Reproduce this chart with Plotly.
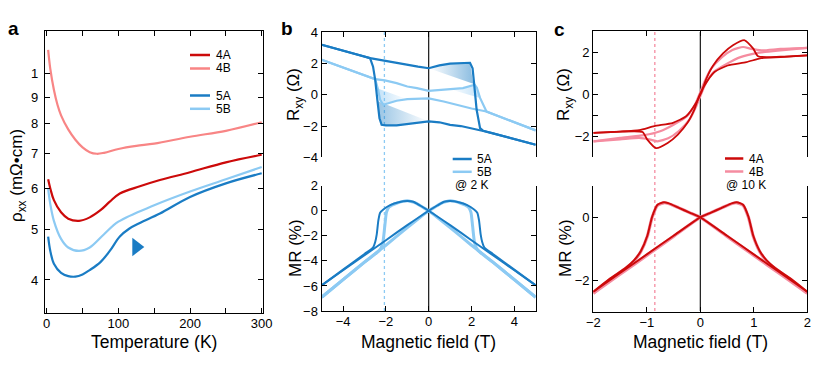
import plotly.graph_objects as go

# ---- panel a: resistivity vs temperature (log axis, values in units where tick "1" = 1.0)
temp_4a = [2, 5, 10, 20, 30, 45, 60, 75, 88, 102, 130, 158, 200, 250, 300]
rho_4a = [0.625, 0.60, 0.57, 0.54, 0.525, 0.52, 0.528, 0.545, 0.566, 0.587, 0.606, 0.623, 0.645, 0.674, 0.697]
temp_4b = [2, 5, 10, 15, 20, 30, 40, 50, 60, 70, 80, 100, 125, 150, 200, 250, 300]
rho_4b = [1.11, 1.02, 0.93, 0.87, 0.83, 0.78, 0.745, 0.72, 0.705, 0.70, 0.703, 0.715, 0.725, 0.732, 0.755, 0.775, 0.805]
temp_5a = [2, 5, 10, 20, 30, 40, 50, 60, 75, 88, 102, 115, 130, 158, 200, 250, 300]
rho_5a = [0.485, 0.455, 0.43, 0.413, 0.407, 0.406, 0.41, 0.418, 0.433, 0.455, 0.485, 0.502, 0.515, 0.537, 0.578, 0.614, 0.642]
temp_5b = [2, 5, 10, 20, 30, 45, 60, 80, 100, 150, 200, 250, 300]
rho_5b = [0.60, 0.56, 0.52, 0.48, 0.462, 0.455, 0.462, 0.49, 0.518, 0.557, 0.592, 0.625, 0.66]
arrow_temp = [125]
arrow_rho = [0.463]
rho_tickvals = [0.4, 0.5, 0.6, 0.7, 0.8, 0.9, 1.0]
rho_ticktext = ["4", "5", "6", "7", "8", "9", "1"]

# ---- panel b: sample 5 at 2 K
b5a_up_field = [-5, -4, -3, -2.74, -2.6, -2.5, -2.4, -2.3, -2.2, -2.0, -1.5, -1.0, -0.5, 0, 0.5, 1, 1.5, 2, 2.4, 2.6, 3, 4, 5]
b5a_up_rxy = [3.2, 2.82, 2.45, 2.35, 1.8, 0.96, -0.32, -1.5, -1.92, -1.96, -1.96, -1.86, -1.76, -1.7, -1.76, -1.92, -2.0, -2.13, -2.28, -2.33, -2.47, -2.83, -3.2]
b5a_dn_field = [5, 4, 3, 2.55, 2.4, 2.24, 2.12, 2.05, 1.93, 1.5, 1.0, 0.5, 0, -0.5, -1, -1.5, -2, -2.74, -3, -4, -5]
b5a_dn_rxy = [-3.2, -2.83, -2.47, -2.3, -2.13, -0.96, 0.75, 1.7, 2.05, 2.04, 2.0, 1.88, 1.7, 1.8, 1.92, 2.03, 2.15, 2.35, 2.45, 2.82, 3.2]
b5b_dn_field = [5, 4, 3, 2.7, 2.55, 2.4, 2.25, 2.15, 1.6, 1.0, 0.4, 0, -0.55, -1, -1.5, -2.05, -2.5, -3, -4, -5]
b5b_dn_rxy = [-2.28, -1.76, -1.24, -1.07, -0.64, -0.2, 0.45, 0.64, 0.43, 0.36, 0.28, 0.25, 0.43, 0.53, 0.75, 0.92, 1.0, 1.24, 1.74, 2.24]
b5b_up_field = [-5, -4, -3, -2.5, -2.38, -2.27, -2.12, -1.8, -1.5, -1, -0.5, 0, 0.7, 1.3, 2.0, 2.7, 3, 4, 5]
b5b_up_rxy = [2.24, 1.74, 1.24, 1.0, 0.4, -0.32, -0.64, -0.5, -0.38, -0.28, -0.25, -0.23, -0.43, -0.65, -0.88, -1.07, -1.24, -1.76, -2.28]

# shaded wedges inside the loops (outline)
shade5a_right_field = [0, 0.5, 1.0, 1.5, 1.93, 2.08, 0]
shade5a_right_rxy = [1.7, 1.88, 2.0, 2.04, 2.05, 0.7, 1.7]
shade5a_left_field = [-2.3, -2.2, -2.0, -1.5, -1.0, -0.5, 0, -2.4]
shade5a_left_rxy = [-1.5, -1.92, -1.96, -1.96, -1.86, -1.76, -1.7, -0.4]
shade5b_right_field = [1.0, 1.6, 2.15, 2.25, 2.4, 1.0]
shade5b_right_rxy = [0.36, 0.43, 0.64, 0.45, -0.2, 0.36]
shade5b_left_field = [-2.38, -2.27, -2.12, -1.8, -1.5, -1.0, -2.38]
shade5b_left_rxy = [0.4, -0.32, -0.64, -0.5, -0.38, -0.28, 0.4]

mr5a_l_field = [-5, -4, -3, -2.6, -2.5, -2.43, -2.35, -2.27, -2.12, -1.8, -1.4, -1, -0.72, -0.4, 0, 1, 2, 3, 4, 5]
mr5a_l_val = [-5.95, -4.7, -3.45, -2.95, -2.5, -1.9, -0.75, -0.15, 0.1, 0.45, 0.68, 0.77, 0.72, 0.42, 0, -1.15, -2.35, -3.55, -4.75, -5.95]
mr5a_r_field = [-5, -4, -3, -2, -1, 0, 0.4, 0.72, 1, 1.4, 1.8, 2.12, 2.27, 2.35, 2.43, 2.5, 2.6, 3, 4, 5]
mr5a_r_val = [-5.95, -4.75, -3.55, -2.35, -1.15, 0, 0.42, 0.72, 0.77, 0.68, 0.45, 0.1, -0.15, -0.75, -1.9, -2.5, -2.95, -3.45, -4.7, -5.95]
mr5b_l_field = [-5, -4, -3, -2.3, -2.15, -2.05, -1.97, -1.85, -1.5, -1, -0.6, -0.3, 0, 1, 2, 3, 4, 5]
mr5b_l_val = [-6.9, -5.5, -4.1, -3.15, -2.6, -1.2, -0.1, 0.3, 0.6, 0.8, 0.6, 0.3, 0, -1.35, -2.75, -4.1, -5.5, -6.9]
mr5b_r_field = [-5, -4, -3, -2, -1, 0, 0.3, 0.6, 1, 1.5, 1.85, 1.97, 2.05, 2.15, 2.3, 3, 4, 5]
mr5b_r_val = [-6.9, -5.5, -4.1, -2.75, -1.35, 0, 0.3, 0.6, 0.8, 0.6, 0.3, -0.1, -1.2, -2.6, -3.15, -4.1, -5.5, -6.9]
switch_field_5 = -2.07

# ---- panel c: sample 4 at 10 K
c4a_p_field = [-2, -1.5, -1.08, -0.99, -0.83, -0.61, -0.42, -0.24, -0.11, -0.02, 0.075, 0.26, 0.51, 0.86, 1.14, 1.5, 2]
c4a_p_rxy = [-1.84, -1.78, -1.8, -2.16, -2.56, -2.32, -1.92, -1.36, -0.72, -0.08, 0.4, 1.04, 1.36, 1.52, 1.71, 1.76, 1.84]
c4a_n_field = [2, 1.5, 1.08, 0.99, 0.83, 0.61, 0.42, 0.24, 0.11, 0.02, -0.075, -0.26, -0.51, -0.86, -1.14, -1.5, -2]
c4a_n_rxy = [1.84, 1.78, 1.8, 2.16, 2.56, 2.32, 1.92, 1.36, 0.72, 0.08, -0.4, -1.04, -1.36, -1.52, -1.71, -1.78, -1.84]
c4b_p_field = [-2, -1.5, -1.14, -0.95, -0.8, -0.6, -0.4, -0.2, -0.08, 0, 0.1, 0.25, 0.5, 0.75, 1.05, 1.5, 2]
c4b_p_rxy = [-2.24, -2.15, -2.08, -2.15, -2.24, -2.1, -1.75, -1.2, -0.6, -0.1, 0.5, 1.05, 1.45, 1.76, 1.95, 2.08, 2.2]
c4b_n_field = [2, 1.5, 1.14, 0.95, 0.8, 0.6, 0.4, 0.2, 0.08, 0, -0.1, -0.25, -0.5, -0.75, -1.05, -1.5, -2]
c4b_n_rxy = [2.2, 2.15, 2.08, 2.15, 2.24, 2.1, 1.75, 1.2, 0.6, 0.1, -0.5, -1.05, -1.45, -1.76, -1.95, -2.08, -2.24]

mr4a_l_field = [-2, -1.7, -1.4, -1.24, -1.11, -0.99, -0.9, -0.8, -0.68, -0.6, -0.4, -0.2, 0, 0.5, 1, 1.5, 2]
mr4a_l_val = [-2.35, -1.95, -1.6, -1.36, -1.06, -0.58, 0.02, 0.4, 0.48, 0.45, 0.3, 0.15, 0, -0.58, -1.17, -1.76, -2.35]
mr4a_r_field = [-2, -1.5, -1, -0.5, 0, 0.2, 0.4, 0.6, 0.68, 0.8, 0.9, 0.99, 1.11, 1.24, 1.4, 1.7, 2]
mr4a_r_val = [-2.35, -1.76, -1.17, -0.58, 0, 0.15, 0.3, 0.45, 0.48, 0.4, 0.02, -0.58, -1.06, -1.36, -1.6, -1.95, -2.35]
mr4b_l_field = [-2, -1.7, -1.4, -1.24, -1.11, -0.99, -0.9, -0.8, -0.68, -0.6, -0.4, -0.2, 0, 0.5, 1, 1.5, 2]
mr4b_l_val = [-2.4, -1.98, -1.62, -1.38, -1.08, -0.6, 0.0, 0.38, 0.46, 0.44, 0.3, 0.15, 0, -0.6, -1.2, -1.8, -2.4]
mr4b_r_field = [-2, -1.5, -1, -0.5, 0, 0.2, 0.4, 0.6, 0.68, 0.8, 0.9, 0.99, 1.11, 1.24, 1.4, 1.7, 2]
mr4b_r_val = [-2.4, -1.8, -1.2, -0.6, 0, 0.15, 0.3, 0.44, 0.46, 0.38, 0.0, -0.6, -1.08, -1.38, -1.62, -1.98, -2.4]
switch_field_4 = -0.85

C4A = "#cc0a0a"
C4B_A = "#f88585"
C4B_C = "#f58ca0"
C5A = "#1a7cc4"
C5B = "#8ccaf3"
FONT = "Liberation Sans, Arial, Helvetica, sans-serif"

fig = go.Figure()


def line(x, y, color, width, xa, ya, shape="spline", smoothing=0.6):
    fig.add_trace(go.Scatter(x=x, y=y, mode="lines", xaxis=xa, yaxis=ya,
                             line=dict(color=color, width=width, shape=shape, smoothing=smoothing),
                             showlegend=False, hoverinfo="skip"))


def shade(x, y, rgb, a_left, a_right, xa, ya):
    fig.add_trace(go.Scatter(x=x, y=y, mode="lines", fill="toself", xaxis=xa, yaxis=ya,
                             line=dict(width=0),
                             fillgradient=dict(type="horizontal", colorscale=[
                                 [0, f"rgba({rgb},{a_left})"], [1, f"rgba({rgb},{a_right})"]]),
                             showlegend=False, hoverinfo="skip"))


# panel a
line(temp_4b, rho_4b, C4B_A, 2.2, "x", "y", smoothing=1.0)
line(temp_4a, rho_4a, C4A, 2.2, "x", "y", smoothing=1.0)
line(temp_5b, rho_5b, C5B, 2.2, "x", "y", smoothing=1.0)
line(temp_5a, rho_5a, C5A, 2.2, "x", "y", smoothing=1.0)
fig.add_trace(go.Scatter(x=arrow_temp, y=arrow_rho, mode="markers", xaxis="x", yaxis="y",
                         marker=dict(symbol="triangle-right", size=16, color=C5A),
                         showlegend=False, hoverinfo="skip"))

# panel b top
shade(shade5a_right_field, shade5a_right_rxy, "26,124,196", 0.0, 0.5, "x2", "y2")
shade(shade5a_left_field, shade5a_left_rxy, "26,124,196", 0.45, 0.0, "x2", "y2")
shade(shade5b_right_field, shade5b_right_rxy, "120,190,240", 0.0, 0.45, "x2", "y2")
shade(shade5b_left_field, shade5b_left_rxy, "120,190,240", 0.45, 0.0, "x2", "y2")
line(b5b_dn_field, b5b_dn_rxy, C5B, 2.2, "x2", "y2", "linear")
line(b5b_up_field, b5b_up_rxy, C5B, 2.2, "x2", "y2", "linear")
line(b5a_dn_field, b5a_dn_rxy, C5A, 2.2, "x2", "y2", "linear")
line(b5a_up_field, b5a_up_rxy, C5A, 2.2, "x2", "y2", "linear")

# panel b bottom
line(mr5b_l_field, mr5b_l_val, C5B, 3, "x3", "y3")
line(mr5b_r_field, mr5b_r_val, C5B, 3, "x3", "y3")
line(mr5a_l_field, mr5a_l_val, C5A, 2, "x3", "y3")
line(mr5a_r_field, mr5a_r_val, C5A, 2, "x3", "y3")

# panel c top
line(c4b_p_field, c4b_p_rxy, C4B_C, 2.2, "x4", "y4")
line(c4b_n_field, c4b_n_rxy, C4B_C, 2.2, "x4", "y4")
line(c4a_p_field, c4a_p_rxy, C4A, 1.8, "x4", "y4")
line(c4a_n_field, c4a_n_rxy, C4A, 1.8, "x4", "y4")

# panel c bottom
line(mr4b_l_field, mr4b_l_val, C4B_C, 3.2, "x5", "y5")
line(mr4b_r_field, mr4b_r_val, C4B_C, 3.2, "x5", "y5")
line(mr4a_l_field, mr4a_l_val, C4A, 2, "x5", "y5")
line(mr4a_r_field, mr4a_r_val, C4A, 2, "x5", "y5")

# the page body keeps its default 8px margin, so the figure is 8px smaller
# on each side and all page positions below are shifted by that offset
OFF = 8
W, H = 830 - 2 * OFF, 369 - 2 * OFF


def px_x(p):
    return (p - OFF) / W


def px_y(p):
    return 1 - (p - OFF) / H


axis_common = dict(showline=True, linecolor="black", linewidth=1.3, ticks="inside", ticklen=5,
                   tickwidth=1.3, tickcolor="black", showgrid=False, zeroline=False, automargin=False,
                   tickfont=dict(family=FONT, size=13, color="black"))
minor_common = dict(ticks="inside", ticklen=5, tickwidth=1.3, tickcolor="black", showgrid=False)

dom_a = [px_x(45), px_x(263)]
dom_b = [px_x(321.7), px_x(535.7)]
dom_c = [px_x(593.3), px_x(807.3)]
top_dom = [px_y(157.3), px_y(32.3)]
bot_dom = [px_y(311), px_y(185.7)]

fig.update_layout(
    template="none",
    width=W, height=H, margin=dict(l=0, r=0, t=0, b=0, pad=0, autoexpand=False),
    plot_bgcolor="white", paper_bgcolor="white", showlegend=False,
    font=dict(family=FONT, color="black"),
    xaxis=dict(domain=dom_a, anchor="y", range=[-2.4, 301.8], mirror="ticks",
               tickvals=[0, 100, 200, 300], ticklabelstandoff=-2,
               minor=dict(tickvals=[50, 150, 250], **minor_common), **axis_common),
    yaxis=dict(domain=[px_y(313), px_y(31)], anchor="x", type="log", range=[-0.4615, 0.0815],
               mirror="ticks", tickvals=rho_tickvals, ticktext=rho_ticktext, ticklabelstandoff=3,
               **axis_common),
    xaxis2=dict(domain=dom_b, anchor="y2", range=[-5, 5], side="top", showticklabels=False,
                tickvals=[-4, -2, 0, 2, 4], **axis_common),
    yaxis2=dict(domain=top_dom, anchor="x2", range=[-4, 4], mirror="ticks",
                tickvals=[-4, -2, 0, 2, 4], **axis_common),
    xaxis3=dict(domain=dom_b, anchor="y3", range=[-5, 5], tickvals=[-4, -2, 0, 2, 4],
                ticklabelstandoff=-2, **axis_common),
    yaxis3=dict(domain=bot_dom, anchor="x3", range=[-8, 2], mirror="ticks",
                tickvals=[-8, -6, -4, -2, 0, 2], **axis_common),
    xaxis4=dict(domain=dom_c, anchor="y4", range=[-2, 2], side="top", showticklabels=False,
                tickvals=[-2, -1, 0, 1, 2], **axis_common),
    yaxis4=dict(domain=[px_y(157.3), px_y(31)], anchor="x4", range=[-3, 3], mirror="ticks",
                tickvals=[-2, 0, 2], minor=dict(tickvals=[-3, -1, 1, 3], **minor_common),
                **axis_common),
    xaxis5=dict(domain=dom_c, anchor="y5", range=[-2, 2], tickvals=[-2, -1, 0, 1, 2],
                ticklabelstandoff=-2, **axis_common),
    yaxis5=dict(domain=[px_y(312.3), px_y(185.7)], anchor="x5", range=[-3, 1], mirror="ticks",
                tickvals=[-2, 0], **axis_common),
)

# vertical guide lines spanning the stacked panels
for xa, xv, col, dash in [("x2", 0, "black", "solid"), ("x2", switch_field_5, C5B, "dot"),
                          ("x4", 0, "black", "solid"), ("x4", switch_field_4, C4B_C, "dot")]:
    fig.add_shape(type="line", xref=xa, yref="paper", x0=xv, x1=xv,
                  y0=px_y(311), y1=px_y(32), layer="below",
                  line=dict(color=col, width=1.1 if dash == "solid" else 1.3, dash=dash))

# hand-made legends
LEG = 11
legend_items = [
    (190, 210, 55, C4A, "4A"), (190, 210, 68.5, C4B_A, "4B"),
    (190, 210, 95.5, C5A, "5A"), (190, 210, 108.8, C5B, "5B"),
    (452.7, 471.7, 159, C5A, "5A"), (452.7, 471.7, 171.8, C5B, "5B"),
    (725, 743.3, 158.5, C4A, "4A"), (725, 743.3, 171.5, C4B_C, "4B"),
]
for x0, x1, yy, col, label in legend_items:
    fig.add_shape(type="line", xref="paper", yref="paper", x0=px_x(x0), x1=px_x(x1),
                  y0=px_y(yy), y1=px_y(yy), line=dict(color=col, width=2.5))
    fig.add_annotation(x=px_x(x1 + 3.5), y=px_y(yy), xref="paper", yref="paper", text=label,
                       showarrow=False, xanchor="left", yanchor="middle",
                       font=dict(family=FONT, size=LEG + 1, color="black"))

texts = [
    (452.7, 184.8, "@ 2 K", "left", LEG + 1, 0),
    (724, 184.8, "@ 10 K", "left", LEG + 1, 0),
    (154, 342, "Temperature (K)", "center", 17.5, 0),
    (428.7, 341.5, "Magnetic field (T)", "center", 17.5, 0),
    (700.5, 341.5, "Magnetic field (T)", "center", 17.5, 0),
    (18, 176, "ρ<sub>xx</sub> (mΩ•cm)", "center", 17, -90),
    (295, 95, "R<sub>xy</sub> (Ω)", "center", 17, -90),
    (295, 248, "MR (%)", "center", 17, -90),
    (565, 95, "R<sub>xy</sub> (Ω)", "center", 17, -90),
    (565, 248, "MR (%)", "center", 17, -90),
]
for xx, yy, txt, anchor, size, ang in texts:
    fig.add_annotation(x=px_x(xx), y=px_y(yy), xref="paper", yref="paper", text=txt,
                       showarrow=False, xanchor=anchor, yanchor="middle", textangle=ang,
                       font=dict(family=FONT, size=size, color="black"))

for xx, yy, letter in [(13, 28, "a"), (287, 28, "b"), (559, 29, "c")]:
    fig.add_annotation(x=px_x(xx), y=px_y(yy), xref="paper", yref="paper", text=f"<b>{letter}</b>",
                       showarrow=False, xanchor="center", yanchor="middle",
                       font=dict(family=FONT, size=19, color="black"))

fig.write_html("out.html")
